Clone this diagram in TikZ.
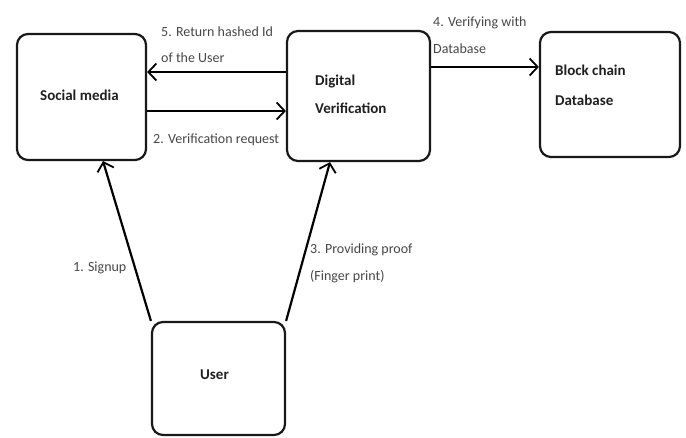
\documentclass[tikz,border=0pt]{standalone}
\usepackage{fontspec}
\setmainfont{Carlito}
\usetikzlibrary{arrows.meta}
\begin{document}
\begin{tikzpicture}[x=1pt,y=-1pt,
  box/.style={draw=black!90, line width=2.2pt, rounded corners=11pt, inner sep=0pt},
  boxtext/.style={font=\fontsize{15}{18}\selectfont\bfseries, text=black!88, anchor=west, align=left, inner sep=0pt},
  lbl/.style={font=\fontsize{14}{17}\selectfont, text=black!72, anchor=west, align=left, inner sep=0pt},
  arr/.style={line width=2.2pt, -{Straight Barb[length=8pt,width=17pt,line width=1.8pt]}}]
\useasboundingbox (0,0) rectangle (686,437);
\node[box, minimum width=129pt, minimum height=126pt] (sm) at (81.5,97) {};
\node[box, minimum width=143pt, minimum height=130pt] (dv) at (358.5,96) {};
\node[box, minimum width=140pt, minimum height=125pt] (bc) at (610,94.5) {};
\node[box, minimum width=133pt, minimum height=113pt] (us) at (218.5,378.5) {};
\node[boxtext] (smt) at (40,95) {Social media};
\node[boxtext] (dvt) at (315,94) {Digital\\[10pt]Verification};
\node[boxtext] (bct) at (555,85) {Block chain\\[12pt]Database};
\node[boxtext] (ust) at (200,375) {User};
\draw[arr] (dv.west |- 0,72) -- (sm.east |- 0,72);
\draw[arr] (sm.east |- 0,111) -- (dv.west |- 0,111);
\draw[arr] (dv.east |- 0,67) -- (bc.west |- 0,67);
\draw[arr] (us.north west) -- (sm.south -| 103,0);
\draw[arr] (us.north east) -- (dv.south -| 330,0);
\node[lbl] (l5) at (161,45) {5. Return hashed Id\\[9pt]of the User};
\node[lbl] (l2) at (153,140) {2. Verification request};
\node[lbl] (l4) at (433,35.5) {4. Verifying with\\[10pt]Database};
\node[lbl] (l1) at (73,268) {1. Signup};
\node[lbl] (l3) at (310,263.5) {3. Providing proof\\[10pt](Finger print)};
\end{tikzpicture}
\end{document}
